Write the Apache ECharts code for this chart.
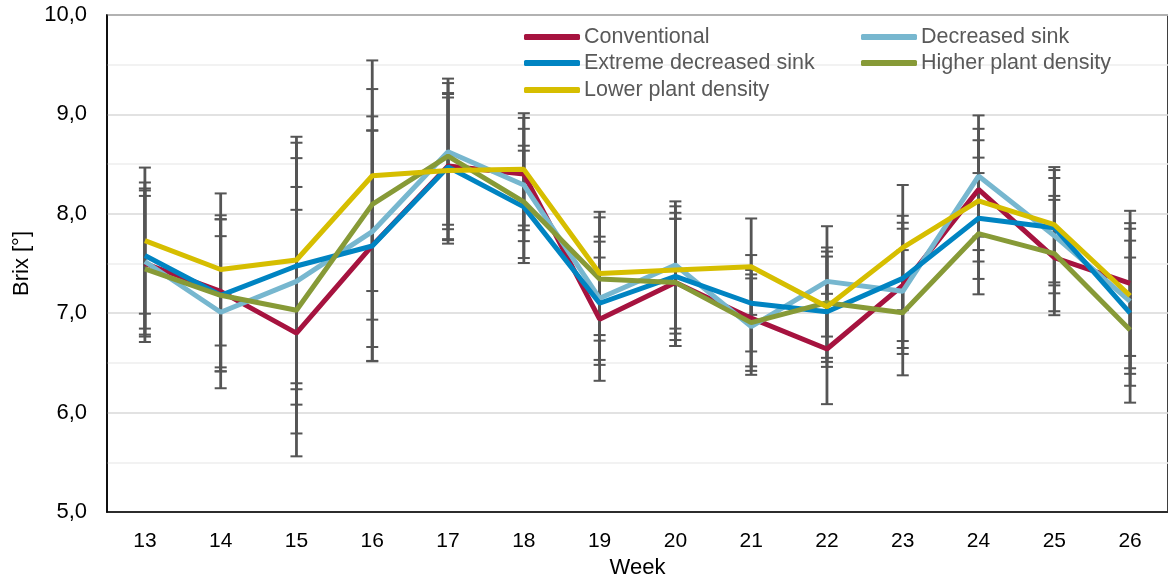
<!DOCTYPE html>
<html>
<head>
<meta charset="utf-8">
<script src="https://cdn.jsdelivr.net/npm/echarts@6/dist/echarts.min.js"></script>
<style>
html,body{margin:0;padding:0;background:#fff;}
#chart{width:1168px;height:581px;}
</style>
</head>
<body>
<div id="chart"></div>
<script>
const weeks = ['13','14','15','16','17','18','19','20','21','22','23','24','25','26'];
const conventional   = [7.50, 7.22, 6.80, 7.68, 8.48, 8.40, 6.94, 7.31, 6.95, 6.64, 7.28, 8.245, 7.56, 7.30];
const decreasedSink  = [7.52, 7.01, 7.32, 7.82, 8.625, 8.29, 7.15, 7.485, 6.865, 7.32, 7.22, 8.38, 7.78, 7.12];
const extremeSink    = [7.58, 7.18, 7.475, 7.676, 8.47, 8.07, 7.10, 7.37, 7.10, 7.015, 7.35, 7.955, 7.86, 7.00];
const higherDensity  = [7.445, 7.18, 7.03, 8.095, 8.58, 8.12, 7.344, 7.31, 6.905, 7.106, 7.005, 7.80, 7.60, 6.83];
const lowerDensity   = [7.73, 7.44, 7.535, 8.383, 8.435, 8.447, 7.40, 7.435, 7.468, 7.065, 7.66, 8.13, 7.89, 7.176];
const errorSD        = [0.735, 0.765, 1.24, 1.16, 0.735, 0.565, 0.62, 0.64, 0.485, 0.555, 0.63, 0.61, 0.58, 0.73];
const yTicks = [5, 6, 7, 8, 9, 10];

const seriesDefs = [
  {name: 'Conventional', data: conventional, color: '#A6133F'},
  {name: 'Decreased sink', data: decreasedSink, color: '#77B7CF'},
  {name: 'Extreme decreased sink', data: extremeSink, color: '#0084C2'},
  {name: 'Higher plant density', data: higherDensity, color: '#879A37'},
  {name: 'Lower plant density', data: lowerDensity, color: '#D6BE00'}
];

const FONT = 'Liberation Sans';

function errRender(params, api) {
  const i = api.value(0);
  const m = api.value(1);
  const s = api.value(2);
  const top = api.coord([i, m + s]);
  const bot = api.coord([i, m - s]);
  const half = 6;
  const st = {stroke: '#555555', lineWidth: 2.8};
  return {
    type: 'group',
    children: [
      {type: 'line', shape: {x1: top[0], y1: top[1], x2: bot[0], y2: bot[1]}, style: st},
      {type: 'line', shape: {x1: top[0]-half, y1: top[1], x2: top[0]+half, y2: top[1]}, style: {stroke:'#555555', lineWidth: 2}},
      {type: 'line', shape: {x1: bot[0]-half, y1: bot[1], x2: bot[0]+half, y2: bot[1]}, style: {stroke:'#555555', lineWidth: 2}}
    ]
  };
}

const series = [];
seriesDefs.forEach(function(d) {
  series.push({
    type: 'custom',
    name: d.name + ' err',
    renderItem: errRender,
    data: d.data.map(function(v, i){ return [i, v, errorSD[i]]; }),
    z: 1,
    silent: true,
    encode: {x: 0, y: 1}
  });
});
seriesDefs.forEach(function(d) {
  series.push({
    type: 'line',
    name: d.name,
    data: d.data,
    color: d.color,
    showSymbol: false,
    symbol: 'none',
    lineStyle: {width: 5, color: d.color},
    z: 5
  });
});

const legendPos = [
  {name: 'Conventional', left: 524, top: 26},
  {name: 'Decreased sink', left: 861, top: 26},
  {name: 'Extreme decreased sink', left: 524, top: 52},
  {name: 'Higher plant density', left: 861, top: 52},
  {name: 'Lower plant density', left: 524, top: 79}
];

const option = {
  animation: false,
  textStyle: {fontFamily: FONT},
  legend: legendPos.map(function(l){
    return {
      data: [l.name], left: l.left, top: l.top, padding: 0,
      icon: 'roundRect', itemWidth: 56, itemHeight: 6,
      textStyle: {fontFamily: FONT, fontSize: 21.5, color: '#595959', padding: [0,0,0,-1]}
    };
  }),
  grid: {left: 107, right: 0, top: 15, bottom: 69, show: true, borderColor: '#000', borderWidth: 1.5, containLabel: false, outerBoundsMode: 'none'},
  xAxis: {
    type: 'category',
    data: weeks,
    boundaryGap: true,
    name: 'Week',
    nameLocation: 'middle',
    nameGap: 42,
    nameTextStyle: {fontFamily: FONT, fontSize: 22, color: '#000'},
    axisLine: {lineStyle: {color: '#000', width: 1.5}},
    axisTick: {show: false},
    axisLabel: {fontFamily: FONT, fontSize: 21, color: '#000', margin: 19},
    splitLine: {show: false}
  },
  yAxis: {
    type: 'value',
    min: yTicks[0],
    max: yTicks[yTicks.length-1],
    interval: 1,
    name: 'Brix [°]',
    nameLocation: 'middle',
    nameGap: 73,
    nameTextStyle: {fontFamily: FONT, fontSize: 22, color: '#000'},
    axisLine: {show: true, lineStyle: {color: '#000', width: 1.5}},
    axisTick: {show: false},
    axisLabel: {
      fontFamily: FONT, fontSize: 22, color: '#000', margin: 20,
      formatter: function(v){ return v.toFixed(1).replace('.', ','); }
    },
    splitLine: {show: true, lineStyle: {color: '#D9D9D9', width: 1.5}},
    minorTick: {show: false, splitNumber: 2},
    minorSplitLine: {show: true, lineStyle: {color: '#EEEEEE', width: 1.5}}
  },
  series: series
};

const chart = echarts.init(document.getElementById('chart'), null, {renderer: 'canvas'});
chart.setOption(option);
</script>
</body>
</html>
